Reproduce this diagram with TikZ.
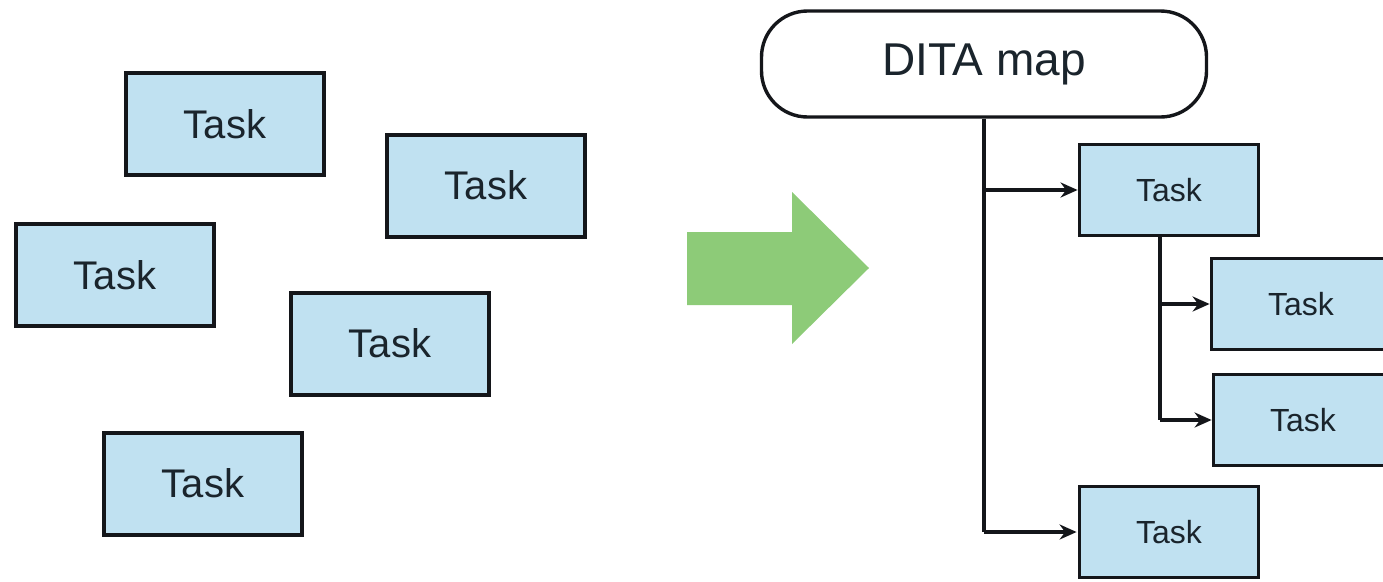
\documentclass[tikz,border=0pt]{standalone}
\usepackage{fontspec}
\setmainfont{Liberation Sans}
\usetikzlibrary{arrows.meta}
\definecolor{taskfill}{RGB}{192,225,241}
\definecolor{bigarrow}{RGB}{141,203,120}
\definecolor{inkc}{RGB}{20,22,26}
\definecolor{textc}{RGB}{26,36,44}
\begin{document}
\begin{tikzpicture}[x=1pt,y=-1pt,
  bigtask/.style={draw=inkc, line width=4pt, fill=taskfill, minimum width=198pt, minimum height=102pt, inner sep=0pt, text=textc, font=\fontsize{40}{42}\selectfont},
  smalltask/.style={draw=inkc, line width=3.8pt, fill=taskfill, minimum width=179pt, minimum height=91pt, inner sep=0pt, text=textc, font=\fontsize{32}{34}\selectfont},
  mapnode/.style={draw=inkc, line width=3.4pt, fill=white, rounded corners=46pt, minimum width=445pt, minimum height=106pt, inner sep=0pt, text=textc, font=\fontsize{46}{48}\selectfont},
  conn/.style={draw=inkc, line width=3.4pt},
  tip/.style={-{Stealth[length=17pt,width=15pt]}}
]
\useasboundingbox (0,0) rectangle (1383,581);
\clip (0,0) rectangle (1383,581);

% scattered tasks
\node[bigtask] (t1) at (225,124) {Task};
\node[bigtask] (t2) at (486,185.5) {Task};
\node[bigtask] (t3) at (115,275) {Task};
\node[bigtask] (t4) at (390,343.5) {Task};
\node[bigtask] (t5) at (203,483.5) {Task};

% green transition arrow
\fill[bigarrow] (687,232) -- (792,232) -- (792,192) -- (869,268) -- (792,344) -- (792,305) -- (687,305) -- cycle;

% DITA map tree
\node[mapnode] (map) at (984,64) {DITA map};
\node[smalltask] (ta) at (1169,190) {Task};
\node[smalltask] (tb) at (1301,304) {Task};
\node[smalltask] (tc) at (1303,420) {Task};
\node[smalltask] (td) at (1169,532) {Task};

\draw[conn] (map.south) -- (map.south |- td.west);
\draw[conn,tip] (map.south |- ta.west) -- (ta.west);
\draw[conn,tip] (map.south |- td.west) -- ([xshift=-1pt]td.west);
\draw[conn] ([xshift=-9pt]ta.south) -- ([xshift=-9pt]ta.south |- tc.west);
\draw[conn,tip] ([xshift=-9pt]ta.south |- tb.west) -- (tb.west);
\draw[conn,tip] ([xshift=-9pt]ta.south |- tc.west) -- (tc.west);
\end{tikzpicture}
\end{document}
